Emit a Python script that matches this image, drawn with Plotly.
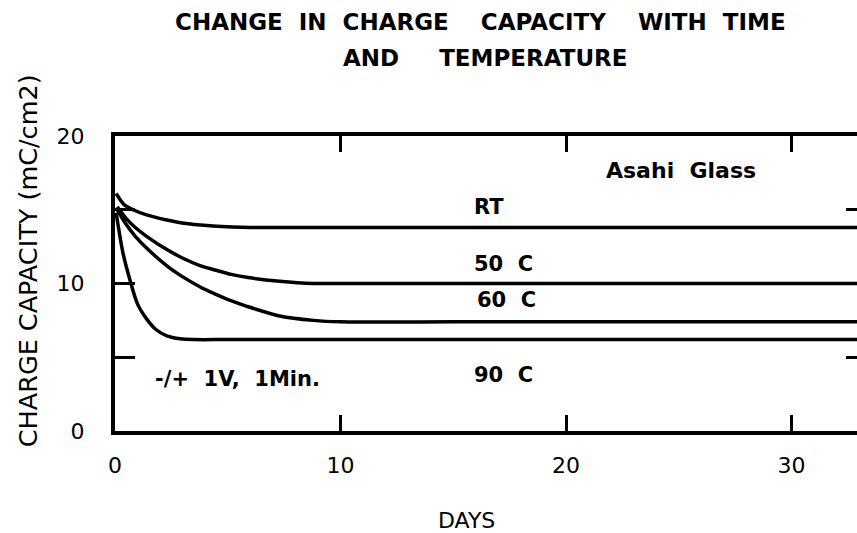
import plotly.graph_objects as go

# ---- data ----
days_rt = [0.05, 0.4, 0.8, 1.4, 2.3, 2.9, 3.8, 4.35, 5.2, 6.0, 8.0, 12, 18, 24, 30, 32.9]
cap_rt = [16.1, 15.35, 15.0, 14.65, 14.3, 14.12, 13.96, 13.89, 13.83, 13.8, 13.8, 13.8, 13.8, 13.8, 13.8, 13.8]

days_50 = [0.1, 0.5, 0.9, 1.4, 2.3, 2.9, 3.8, 4.35, 5.2, 5.9, 7.3, 8.8, 10, 15, 20, 25, 30, 32.9]
cap_50 = [15.2, 14.4, 13.8, 13.2, 12.3, 11.8, 11.2, 10.95, 10.6, 10.4, 10.15, 10.0, 10.0, 10.0, 10.0, 10.0, 10.0, 10.0]

days_60 = [0.1, 0.5, 0.9, 1.4, 2.3, 2.9, 3.8, 4.35, 5.2, 5.85, 7.3, 8.8, 10, 15, 20, 25, 30, 32.9]
cap_60 = [15.0, 14.0, 13.2, 12.4, 11.2, 10.55, 9.75, 9.35, 8.8, 8.45, 7.8, 7.5, 7.4, 7.4, 7.4, 7.4, 7.4, 7.4]

days_90 = [0.05, 0.35, 0.67, 1.0, 1.4, 1.8, 2.3, 2.9, 3.5, 5, 10, 15, 20, 25, 30, 32.9]
cap_90 = [14.8, 12.1, 10.2, 8.6, 7.6, 6.9, 6.45, 6.25, 6.2, 6.2, 6.2, 6.2, 6.2, 6.2, 6.2, 6.2]

x_tick_vals = [0, 10, 20, 30]
x_tick_text = ["0", "10", "20", "30"]
y_tick_vals = [0, 5, 10, 15, 20]
y_tick_text = ["0", "", "10", "", "20"]
y_right_ticks = [5, 15]

series = [
    ("RT", days_rt, cap_rt),
    ("50 C", days_50, cap_50),
    ("60 C", days_60, cap_60),
    ("90 C", days_90, cap_90),
]

NB = "\u00a0"
BOLD = "DejaVu Sans"
REG = "DejaVu Sans"

fig = go.Figure()
for name, xs, ys in series:
    fig.add_trace(go.Scatter(
        x=xs, y=ys, mode="lines", name=name,
        line=dict(color="black", width=3.5, shape="spline", smoothing=0.8),
        showlegend=False, hoverinfo="skip",
    ))

# empty trace so that the right-hand tick axis is drawn
fig.add_trace(go.Scatter(x=[], y=[], yaxis="y2", mode="lines",
                         showlegend=False, hoverinfo="skip"))

def lab(text, x, y, size=21):
    fig.add_annotation(
        x=x, y=y, xref="x", yref="y", text="<b>" + text + "</b>",
        showarrow=False, xanchor="left", yanchor="middle",
        font=dict(family=BOLD, size=size, color="black"),
    )

lab("RT", 15.85, 15.2)
lab("50" + NB * 2 + "C", 15.85, 11.3)
lab("60" + NB * 2 + "C", 15.95, 8.88)
lab("90" + NB * 2 + "C", 15.85, 3.8)
lab("-/+" + NB * 2 + "1V," + NB * 2 + "1Min.", 1.7, 3.53)
lab("Asahi" + NB * 2 + "Glass", 21.7, 17.63, size=22)

# title lines
fig.add_annotation(
    x=0.492, y=1.386, xref="paper", yref="paper", showarrow=False,
    xanchor="center", yanchor="middle",
    text="<b>CHANGE" + NB * 2 + "IN" + NB * 2 + "CHARGE" + NB * 4 + "CAPACITY" + NB * 4 + "WITH" + NB * 2 + "TIME</b>",
    font=dict(family=BOLD, size=23, color="black"),
)
fig.add_annotation(
    x=0.4987, y=1.264, xref="paper", yref="paper", showarrow=False,
    xanchor="center", yanchor="middle",
    text="<b>AND" + NB * 5 + "TEMPERATURE</b>",
    font=dict(family=BOLD, size=23, color="black"),
)
# axis titles
fig.add_annotation(
    x=-0.117, y=0.576, xref="paper", yref="paper", showarrow=False,
    xanchor="center", yanchor="middle", textangle=-90,
    text="CHARGE CAPACITY (mC/cm2)",
    font=dict(family=REG, size=25.5, color="black"),
)
fig.add_annotation(
    x=0.474, y=-0.302, xref="paper", yref="paper", showarrow=False,
    xanchor="center", yanchor="middle",
    text="DAYS",
    font=dict(family=REG, size=22, color="black"),
)

fig.update_layout(
    width=857, height=533,
    margin=dict(l=115, r=0, t=136, b=102, pad=0),
    paper_bgcolor="white", plot_bgcolor="white",
    xaxis=dict(
        range=[0, 32.9], showgrid=False, zeroline=False,
        showline=True, linewidth=4, linecolor="black", mirror="ticks",
        ticks="inside", ticklen=16, tickwidth=2.5, tickcolor="black",
        tickvals=x_tick_vals, ticktext=x_tick_text,
        tickfont=dict(family=REG, size=22, color="black"),
        ticklabelstandoff=12,
    ),
    yaxis=dict(
        range=[0, 20], showgrid=False, zeroline=False,
        showline=True, linewidth=4, linecolor="black",
        ticks="inside", ticklen=20, tickwidth=2.5, tickcolor="black",
        tickvals=y_tick_vals, ticktext=y_tick_text,
        tickfont=dict(family=REG, size=22, color="black"),
        ticklabelstandoff=22,
    ),
    yaxis2=dict(
        range=[0, 20], overlaying="y", side="right", anchor="x",
        showgrid=False, zeroline=False, showline=False,
        ticks="inside", ticklen=11, tickwidth=2.5, tickcolor="black",
        tickvals=y_right_ticks, showticklabels=False,
    ),
)

# remove the default page margin so the 857x533 figure fills the window exactly
fig.write_html(
    "out.html",
    config={"displayModeBar": False},
    post_script="document.body.style.margin='0';document.body.style.overflow='hidden';",
)
